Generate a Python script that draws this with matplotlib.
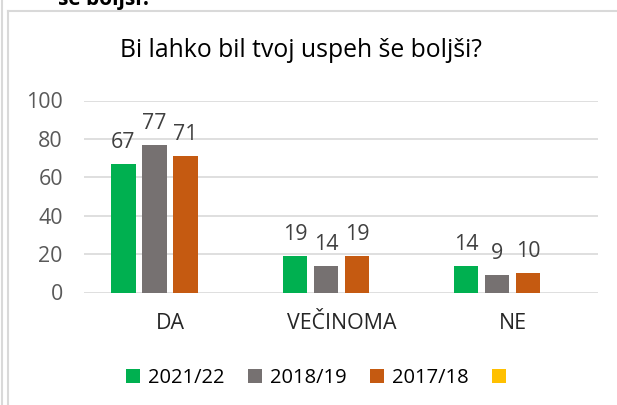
import matplotlib
matplotlib.use("Agg")
import matplotlib.pyplot as plt
from matplotlib.lines import Line2D
from matplotlib.patches import Patch
import numpy as np

categories = ["DA", "VEČINOMA", "NE"]
series_names = ["2021/22", "2018/19", "2017/18", ""]
v_2021 = [67, 19, 14]
v_2018 = [77, 14, 9]
v_2017 = [71, 19, 10]
v_empty = [0, 0, 0]
colors = ["#00B050", "#767171", "#C55A11", "#FFC000"]
yticks = [0, 20, 40, 60, 80, 100]

plt.rcParams['font.family'] = ['Open Sans', 'DejaVu Sans']
FS = 15.4

fig = plt.figure(figsize=(6.17, 4.05), dpi=100)
ax = fig.add_axes([84.3/617, (405-292.5)/405, 514/617, 192/405])

x = np.arange(len(categories))
width = 0.143
pitch = 0.181
offsets = [-1.5*pitch, -0.5*pitch, 0.5*pitch, 1.5*pitch]
for i, (vals, col, off) in enumerate(zip([v_2021, v_2018, v_2017, v_empty], colors, offsets)):
    bars = ax.bar(x + off, vals, width, color=col, zorder=3)
    if i < 3:
        for b, v in zip(bars, vals):
            ax.annotate(str(v), (b.get_x() + b.get_width()/2, v), xytext=(0, 11.5),
                        textcoords='offset points', ha='center', va='baseline',
                        fontsize=FS, color='#404040')

ax.set_xlim(-0.5, 2.5)
ax.set_ylim(0, 100)
ax.set_yticks(yticks)
ax.set_yticklabels([str(t) for t in yticks], fontsize=FS, color='#595959')
ax.set_xticks(x)
ax.set_xticklabels(categories, fontsize=FS, color='#262626')
ax.tick_params(axis='both', length=0)
ax.tick_params(axis='y', pad=15.5)
ax.tick_params(axis='x', pad=15)
ax.grid(axis='y', color='#D9D9D9', linewidth=1.2, zorder=0)
for s in ax.spines.values():
    s.set_visible(False)

fig.text(301/617, 1 - 57/405, "Bi lahko bil tvoj uspeh še boljši?", ha='center', va='baseline',
         fontsize=17.8, color='#000000')

# cut-off heading above chart
fig.text(58/617, 1 - 5/405, "še boljši?", ha='left', va='baseline', fontsize=15,
         fontweight='bold', color='#000000')

handles = [Patch(facecolor=c, edgecolor='none') for c in colors]
leg = fig.legend(handles, series_names, loc='center', bbox_to_anchor=(320/617, 1 - 378/405),
                 ncol=4, frameon=False, fontsize=14.5, handlelength=0.7, handleheight=0.7,
                 handletextpad=0.4, columnspacing=1.15)

# frame lines
fig.add_artist(Line2D([1.5/617, 1.5/617], [0, 1], transform=fig.transFigure, color='#D9D9D9', lw=1.5))
fig.add_artist(Line2D([8.2/617, 8.2/617], [0, 1 - 11/405], transform=fig.transFigure, color='#D9D9D9', lw=1.5))
fig.add_artist(Line2D([8.2/617, 1], [1 - 11/405, 1 - 11/405], transform=fig.transFigure, color='#D9D9D9', lw=1.5))

fig.savefig("out.png", dpi=100)
